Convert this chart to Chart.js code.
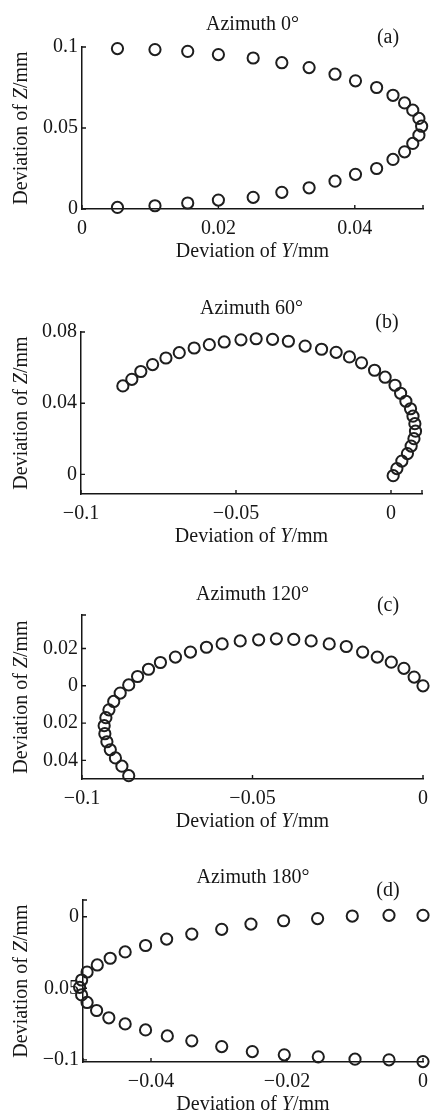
<!DOCTYPE html>
<html>
<head>
<meta charset="utf-8">
<script src="https://cdn.jsdelivr.net/npm/chart.js@4/dist/chart.umd.min.js"></script>
<style>
  body { margin: 0; background: #fff; }
  .panel { position: absolute; left: 0; width: 436px; }
</style>
</head>
<body>
<div class="panel" style="top:0px;height:270px"><canvas id="chart-a"></canvas></div>
<div class="panel" style="top:270px;height:280px"><canvas id="chart-b"></canvas></div>
<div class="panel" style="top:550px;height:280px"><canvas id="chart-c"></canvas></div>
<div class="panel" style="top:830px;height:284px"><canvas id="chart-d"></canvas></div>
<script>
// (a) azimuth 0
const aY = [0.0052, 0.0107, 0.0155, 0.0200, 0.0251, 0.0293, 0.0333, 0.0371, 0.0401, 0.0432, 0.0456, 0.0473, 0.0485, 0.0494, 0.0498,
            0.0494, 0.0485, 0.0473, 0.0456, 0.0432, 0.0401, 0.0371, 0.0333, 0.0293, 0.0251, 0.0200, 0.0155, 0.0107, 0.0052];
const aZ = [0.0990, 0.0984, 0.0973, 0.0953, 0.0932, 0.0903, 0.0873, 0.0832, 0.0791, 0.0750, 0.0702, 0.0655, 0.0610, 0.0559, 0.0511,
            0.0456, 0.0405, 0.0353, 0.0306, 0.0250, 0.0214, 0.0172, 0.0131, 0.0103, 0.0072, 0.0055, 0.0037, 0.0020, 0.0010];
const aXTicks = [0, 0.02, 0.04, 0.05];
const aXLabels = ['0', '0.02', '0.04', ''];
const aZTicks = [0, 0.05, 0.1];
const aZLabels = ['0', '0.05', '0.1'];

// (b) azimuth 60
const bY = [-0.0865, -0.0836, -0.0807, -0.0769, -0.0726, -0.0683, -0.0635, -0.0586, -0.0538, -0.0484, -0.0435, -0.0382, -0.0331,
            -0.0277, -0.0224, -0.0177, -0.0134, -0.0095, -0.0053, -0.0019, 0.0013, 0.0031, 0.0048, 0.0063, 0.0071, 0.0077,
            0.0079, 0.0074, 0.0065, 0.0053, 0.0035, 0.0019, 0.0007];
const bZ = [0.0497, 0.0534, 0.0578, 0.0617, 0.0654, 0.0684, 0.0710, 0.0729, 0.0744, 0.0756, 0.0762, 0.0759, 0.0748,
            0.0721, 0.0703, 0.0686, 0.0660, 0.0627, 0.0585, 0.0546, 0.0501, 0.0456, 0.0411, 0.0369, 0.0327, 0.0285,
            0.0243, 0.0201, 0.0159, 0.0117, 0.0075, 0.0033, -0.0007];
const bXTicks = [-0.1, -0.05, 0, 0.01];
const bXLabels = ['\u22120.1', '\u22120.05', '0', ''];
const bZTicks = [0, 0.04, 0.08];
const bZLabels = ['0', '0.04', '0.08'];

// (c) azimuth 120
const cY = [0, -0.0026, -0.0056, -0.0093, -0.0134, -0.0177, -0.0225, -0.0275, -0.0328, -0.0379, -0.0430, -0.0482, -0.0536,
            -0.0589, -0.0635, -0.0682, -0.0726, -0.0770, -0.0805, -0.0837, -0.0863, -0.0888, -0.0907, -0.0921, -0.0930,
            -0.0935, -0.0933, -0.0927, -0.0917, -0.0902, -0.0883, -0.0863];
const cZ = [0, 0.0047, 0.0094, 0.0127, 0.0154, 0.0181, 0.0211, 0.0225, 0.0241, 0.0249, 0.0252, 0.0247, 0.0241,
            0.0225, 0.0207, 0.0181, 0.0154, 0.0125, 0.0089, 0.0050, 0.0005, -0.0039, -0.0084, -0.0129, -0.0171,
            -0.0214, -0.0257, -0.0300, -0.0343, -0.0387, -0.0431, -0.0482];
const cXTicks = [-0.1, -0.05, 0];
const cXLabels = ['\u22120.1', '\u22120.05', '0'];
const cZTicks = [-0.04, -0.02, 0, 0.02, 0.038];
const cZLabels = ['0.04', '0.02', '0', '0.02', ''];

// (d) azimuth 180
const dY = [0, -0.0050, -0.0104, -0.0155, -0.0205, -0.0253, -0.0296, -0.0340, -0.0377, -0.0408, -0.0438, -0.0460, -0.0479,
            -0.0494, -0.0502, -0.0505, -0.0502, -0.0494, -0.0480, -0.0462, -0.0438, -0.0408, -0.0376, -0.0340, -0.0296,
            -0.0251, -0.0204, -0.0154, -0.0100, -0.0050, 0];
const dZ = [0.0010, 0.0010, 0.0005, -0.0013, -0.0028, -0.0051, -0.0088, -0.0121, -0.0156, -0.0201, -0.0246, -0.0290, -0.0337,
            -0.0386, -0.0442, -0.0493, -0.0546, -0.0599, -0.0655, -0.0706, -0.0749, -0.0791, -0.0833, -0.0867, -0.0907,
            -0.0942, -0.0965, -0.0979, -0.0995, -0.1000, -0.1012];
const dXTicks = [-0.05, -0.04, -0.02, 0];
const dXLabels = ['', '\u22120.04', '\u22120.02', '0'];
const dZTicks = [-0.1, -0.05, 0, 0.0117];
const dZLabels = ['\u22120.1', '0.05', '0', ''];

const serif = '"Liberation Serif", "Times New Roman", serif';
const ink = '#161616';

const innerTicks = {
    id: 'innerTicks',
    beforeDatasetsDraw(chart) {
        const {ctx, chartArea: a, scales: {x, y}} = chart;
        ctx.save();
        ctx.strokeStyle = ink;
        ctx.lineWidth = 1.4;
        ctx.beginPath();
        x.ticks.forEach(t => {
            const px = x.getPixelForValue(t.value);
            ctx.moveTo(px, a.bottom);
            ctx.lineTo(px, a.bottom - 4);
        });
        y.ticks.forEach(t => {
            const py = y.getPixelForValue(t.value);
            ctx.moveTo(a.left, py);
            ctx.lineTo(a.left + 4, py);
        });
        ctx.stroke();
        ctx.restore();
    }
};

// text with an italic letter in it, centred on (cx, cy)
let drawMixed = function (ctx, parts, cx, cy) {
    const fonts = parts.map(p => (p[1] ? 'italic ' : '') + '20px ' + serif);
    const widths = parts.map((p, i) => { ctx.font = fonts[i]; return ctx.measureText(p[0]).width; });
    let x = cx - widths.reduce((s, w) => s + w, 0) / 2;
    ctx.textAlign = 'left';
    ctx.textBaseline = 'middle';
    parts.forEach((p, i) => {
        ctx.font = fonts[i];
        ctx.fillText(p[0], x, cy);
        x += widths[i];
    });
};

const axisTexts = {
    id: 'axisTexts',
    afterDraw(chart, args, opts) {
        const {ctx, chartArea: a} = chart;
        ctx.save();
        ctx.fillStyle = ink;
        drawMixed(ctx, [['Deviation of ', false], ['Y', true], ['/mm', false]], (a.left + a.right) / 2, a.bottom + 43);
        ctx.save();
        ctx.translate(22, (a.top + a.bottom) / 2);
        ctx.rotate(-Math.PI / 2);
        drawMixed(ctx, [['Deviation of ', false], ['Z', true], ['/mm', false]], 0, 0);
        ctx.restore();
        ctx.font = '20px ' + serif;
        ctx.textAlign = 'center';
        ctx.textBaseline = 'middle';
        ctx.fillText(opts.tag, a.right - 35, a.top - 9);
        ctx.restore();
    }
};

let drawPanel = function (canvas, title, tag, ys, zs, xTicks, xLabels, zTicks, zLabels, xMin, xMax, zMin, zMax, geo) {
    const pts = ys.map((v, i) => ({x: v, y: zs[i]}));
    const tickFont = {family: serif, size: 20};
    new Chart(document.getElementById(canvas), {
        type: 'scatter',
        data: {
            datasets: [{
                data: pts,
                pointStyle: 'circle',
                pointRadius: 5.6,
                pointBorderWidth: 2,
                pointBorderColor: '#1e1e1e',
                pointBackgroundColor: 'rgba(0,0,0,0)',
                clip: false
            }]
        },
        options: {
            responsive: true,
            maintainAspectRatio: false,
            animation: false,
            layout: {padding: {top: 0, left: 0, bottom: 0, right: 436 - geo.right}},
            plugins: {
                legend: {display: false},
                tooltip: {enabled: false},
                title: {
                    display: true,
                    text: title,
                    fullSize: false,
                    color: ink,
                    font: {family: serif, size: 20, weight: 'normal'},
                    padding: {top: geo.titleY - 12, bottom: geo.top - geo.titleY - 12}
                },
                axisTexts: {tag: tag}
            },
            scales: {
                x: {
                    type: 'linear',
                    min: xMin,
                    max: xMax,
                    afterBuildTicks: s => { s.ticks = xTicks.map(v => ({value: v})); },
                    afterFit: s => { s.height = geo.h - geo.bottom; },
                    ticks: {callback: (v, i) => xLabels[i], padding: 8, font: tickFont, color: ink, maxRotation: 0, autoSkip: false},
                    grid: {display: true, drawOnChartArea: false, drawTicks: false},
                    border: {display: true, color: ink, width: 1.5}
                },
                y: {
                    type: 'linear',
                    min: zMin,
                    max: zMax,
                    afterBuildTicks: s => { s.ticks = zTicks.map(v => ({value: v})); },
                    afterFit: s => { s.width = geo.left; },
                    ticks: {callback: (v, i) => zLabels[i], padding: 4, font: tickFont, color: ink, autoSkip: false},
                    grid: {display: true, drawOnChartArea: false, drawTicks: false},
                    border: {display: true, color: ink, width: 1.5}
                }
            }
        },
        plugins: [innerTicks, axisTexts]
    });
};

drawPanel('chart-a', 'Azimuth 0\u00b0', '(a)', aY, aZ, aXTicks, aXLabels, aZTicks, aZLabels, 0, 0.05, 0, 0.1,
    {h: 270, left: 82, right: 423, top: 47, bottom: 209, titleY: 25});
drawPanel('chart-b', 'Azimuth 60\u00b0', '(b)', bY, bZ, bXTicks, bXLabels, bZTicks, bZLabels, -0.1, 0.01, -0.011, 0.08,
    {h: 280, left: 81, right: 422, top: 62, bottom: 224, titleY: 39});
drawPanel('chart-c', 'Azimuth 120\u00b0', '(c)', cY, cZ, cXTicks, cXLabels, cZTicks, cZLabels, -0.1, 0, -0.05, 0.038,
    {h: 280, left: 82, right: 423, top: 65, bottom: 229, titleY: 45});
drawPanel('chart-d', 'Azimuth 180\u00b0', '(d)', dY, dZ, dXTicks, dXLabels, dZTicks, dZLabels, -0.05, 0, -0.1015, 0.0117,
    {h: 284, left: 83, right: 424, top: 70, bottom: 232, titleY: 48});
</script>
</body>
</html>
